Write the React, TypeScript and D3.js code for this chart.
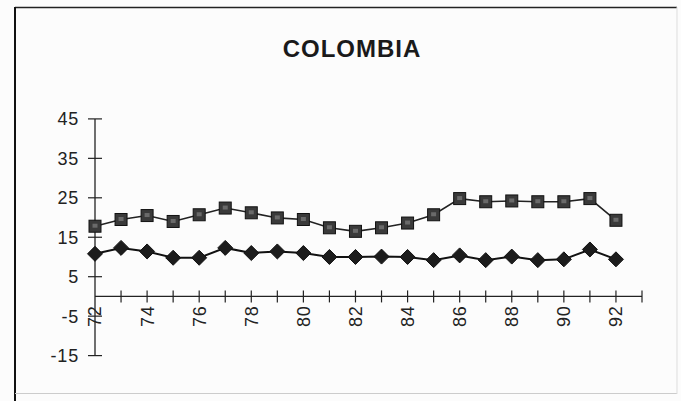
import React from "react";
import * as d3 from "d3";

const years = [72, 73, 74, 75, 76, 77, 78, 79, 80, 81, 82, 83, 84, 85, 86, 87, 88, 89, 90, 91, 92];
const squareSeries = [17.8, 19.5, 20.5, 19.0, 20.7, 22.4, 21.2, 19.9, 19.5, 17.4, 16.5, 17.4, 18.6, 20.7, 24.8, 24.0, 24.2, 24.0, 24.0, 24.8, 19.3];
const diamondSeries = [10.8, 12.3, 11.4, 9.8, 9.8, 12.3, 11.0, 11.4, 11.0, 10.0, 10.0, 10.1, 10.0, 9.2, 10.4, 9.2, 10.1, 9.2, 9.4, 11.9, 9.4];
const yTicks = [-15, -5, 5, 15, 25, 35, 45];
const xLabels = [72, 74, 76, 78, 80, 82, 84, 86, 88, 90, 92];
const title = "COLOMBIA";

export default function App() {
  const W = 681, H = 401;
  const x = d3.scaleLinear().domain([72, 93]).range([95, 642]);
  const y = d3.scaleLinear().domain([-15, 45]).range([355.6, 118.9]);
  const line = d3.line<number>().x((_, i) => x(years[i])).y((d) => y(d));
  const font = "'Liberation Sans', Arial, Helvetica, sans-serif";
  const allTicks = d3.range(73, 94);
  const sq = 12;
  const dm = 7.5;
  return (
    <svg width={W} height={H} style={{ position: "absolute", left: 0, top: 0, background: "#fcfcfc" }}>
      <rect x={0} y={0} width={W} height={H} fill="#fcfcfc" />
      {/* frame */}
      <line x1={15} y1={7.5} x2={677} y2={7.5} stroke="#222" strokeWidth={1.5} />
      <line x1={15} y1={7} x2={15} y2={401} stroke="#111" strokeWidth={2} />
      <line x1={15} y1={393.5} x2={677} y2={393.5} stroke="#ccc" strokeWidth={1} />
      <line x1={677} y1={7} x2={677} y2={394} stroke="#ddd" strokeWidth={1} />
      <text x={352} y={57} textAnchor="middle" fontFamily={font} fontWeight="bold" fontSize={24} letterSpacing={1} fill="#1a1a1a">
        {title}
      </text>
      {/* y axis */}
      <line x1={x(72)} x2={x(72)} y1={y(45)} y2={y(-15)} stroke="#222" strokeWidth={1.3} />
      {yTicks.map((t) => (
        <g key={t}>
          <line x1={x(72) - 7} x2={x(72) + 7} y1={y(t)} y2={y(t)} stroke="#222" strokeWidth={1.2} />
          <text x={79} y={y(t)} dy="0.36em" textAnchor="end" fontFamily={font} fontSize={18} letterSpacing={0.8} fill="#222">
            {t}
          </text>
        </g>
      ))}
      {/* x axis */}
      <line x1={x(72)} x2={x(93)} y1={y(0)} y2={y(0)} stroke="#222" strokeWidth={1.3} />
      {allTicks.map((t) => (
        <line key={t} x1={x(t)} x2={x(t)} y1={y(0) - 6} y2={y(0) + 6} stroke="#222" strokeWidth={1.2} />
      ))}
      {xLabels.map((t) => (
        <text
          key={t}
          transform={`translate(${x(t)},${y(0) + 9}) rotate(-90)`}
          textAnchor="end"
          dy="0.36em"
          fontFamily={font}
          fontSize={18}
          letterSpacing={0.8}
          fill="#222"
        >
          {t}
        </text>
      ))}
      {/* series lines */}
      <path d={line(squareSeries) ?? ""} fill="none" stroke="#222" strokeWidth={1.6} />
      <path d={line(diamondSeries) ?? ""} fill="none" stroke="#111" strokeWidth={2} />
      {squareSeries.map((v, i) => (
        <g key={"s" + i}>
          <rect x={x(years[i]) - sq / 2} y={y(v) - sq / 2} width={sq} height={sq} fill="#3a3a3a" stroke="#111" strokeWidth={1} />
          <rect x={x(years[i]) - 2.5} y={y(v) - 2.5} width={5} height={4} fill="#8a8a8a" opacity={0.6} />
        </g>
      ))}
      {diamondSeries.map((v, i) => {
        const cx = x(years[i]);
        const cy = y(v);
        return (
          <path
            key={"d" + i}
            d={`M${cx},${cy - dm} L${cx + dm},${cy} L${cx},${cy + dm} L${cx - dm},${cy} Z`}
            fill="#1c1c1c"
            stroke="#111"
            strokeWidth={1}
          />
        );
      })}
    </svg>
  );
}
